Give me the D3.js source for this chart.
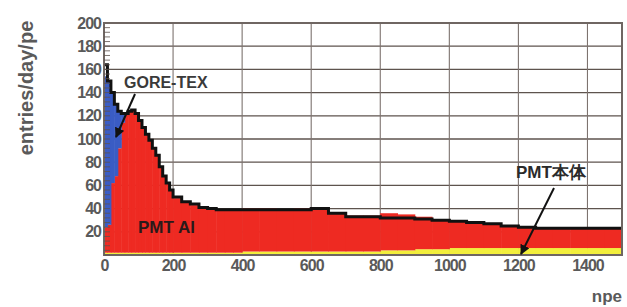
<!DOCTYPE html>
<html>
<head>
<meta charset="utf-8">
<script src="https://cdn.jsdelivr.net/npm/d3@7"></script>
<style>
  body { margin: 0; background: #fff; }
  text { font-family: "Liberation Sans", Arial, sans-serif; }
</style>
</head>
<body>
<div id="chart"></div>
<script>
// histogram bin edges (npe)
var binEdges = [0, 10, 20, 30, 40, 50, 60, 70, 80, 90, 100, 110, 120, 130, 140, 150, 160, 170, 180, 190,
  200, 225, 250, 275, 300, 325, 350, 375,
  400, 450, 500, 550, 600, 650, 700, 750, 800, 850, 900, 950, 1000, 1050, 1100, 1150, 1200, 1250, 1300, 1350, 1400, 1450, 1500];

// PMT body (yellow)
var pmtBody = [2, 2, 2, 2, 2, 2, 2, 2, 2, 2, 2, 2, 2, 2, 2, 2, 2, 2, 2, 2,
  2, 2, 2, 2, 2, 2, 2, 2,
  3, 3, 3, 3, 3, 3, 3, 3, 4, 4, 5, 5, 6, 6, 6, 6, 6, 6, 6, 6, 6, 6];

// PMT Al (red)
var pmtAl = [22, 24, 60, 66, 90, 112, 119, 122, 123, 120, 114, 108, 102, 97, 90, 84, 74, 66, 60, 54,
  47, 43, 41, 39, 38, 37, 37, 37,
  37, 37, 36, 37, 38, 33, 31, 31, 32, 31, 28, 25, 23, 23, 21, 19, 18, 17, 17, 18, 17, 17];

// GORE-TEX (blue)
var goreTex = [130, 124, 78, 62, 32, 8, 1, 0, 0, 0, 0, 0, 0, 0, 0, 0, 0, 0, 0, 0,
  0, 0, 0, 0, 0, 0, 0, 0,
  0, 0, 0, 0, 0, 0, 0, 0, 0, 0, 0, 0, 0, 0, 0, 0, 0, 0, 0, 0, 0, 0];

// measured total (black line)
var measured = [164, 150, 140, 130, 124, 122, 122, 124, 125, 122, 116, 110, 104, 99, 92, 86, 76, 68, 62, 56,
  50, 46, 44, 41, 40, 39, 39, 39,
  39, 39, 39, 39, 40, 36, 33, 33, 32, 32, 31, 30, 29, 28, 27, 25, 24, 23, 23, 23, 23, 23];

var yTicks = [20, 40, 60, 80, 100, 120, 140, 160, 180, 200];
var xTicks = [0, 200, 400, 600, 800, 1000, 1200, 1400];

var svgWidth = 627;
var svgHeight = 307;

var svg = d3.select("#chart")
  .append("svg")
  .attr("width", svgWidth)
  .attr("height", svgHeight);

var xScale = d3.scaleLinear().domain([0, 1500]).range([104, 622]);
var yScale = d3.scaleLinear().domain([0, 200]).range([255, 23]);

// build table for the stack
var table = pmtBody.map(function(v, i) {
  return { x0: binEdges[i], x1: binEdges[i + 1], body: v, al: pmtAl[i], gore: goreTex[i] };
});

var stack = d3.stack().keys(["body", "al", "gore"]);
var layers = stack(table);
var colors = { body: "#f2ee3c", al: "#ee2a22", gore: "#3a5cc4" };

// grid lines
svg.append("g")
  .selectAll("line")
  .data(yTicks)
  .enter()
  .append("line")
  .attr("x1", xScale(0))
  .attr("x2", xScale(1500))
  .attr("y1", d => yScale(d))
  .attr("y2", d => yScale(d))
  .attr("stroke", "#5e534e")
  .attr("stroke-width", 1.3);

svg.append("g")
  .selectAll("line")
  .data(xTicks.slice(1))
  .enter()
  .append("line")
  .attr("x1", d => xScale(d))
  .attr("x2", d => xScale(d))
  .attr("y1", yScale(0))
  .attr("y2", yScale(200))
  .attr("stroke", "#7d736f")
  .attr("stroke-width", 1.1);

// stacked bars
svg.append("g")
  .selectAll("g")
  .data(layers)
  .enter()
  .append("g")
  .attr("fill", d => colors[d.key])
  .selectAll("rect")
  .data(d => d)
  .enter()
  .append("rect")
  .attr("x", d => xScale(d.data.x0))
  .attr("width", d => xScale(d.data.x1) - xScale(d.data.x0) + 0.5)
  .attr("y", d => yScale(d[1]))
  .attr("height", d => Math.max(0, yScale(d[0]) - yScale(d[1])));

// measured line as steps
var pts = measured.map(function(v, i) { return [binEdges[i], v]; });
pts.push([1500, measured[measured.length - 1]]);

var line = d3.line()
  .x(d => xScale(d[0]))
  .y(d => yScale(d[1]))
  .curve(d3.curveStepAfter);

svg.append("path")
  .datum(pts)
  .attr("d", line)
  .attr("fill", "none")
  .attr("stroke", "#111")
  .attr("stroke-width", 3);

// frame
svg.append("rect")
  .attr("x", xScale(0))
  .attr("y", yScale(200))
  .attr("width", xScale(1500) - xScale(0))
  .attr("height", yScale(0) - yScale(200))
  .attr("fill", "none")
  .attr("stroke", "#6f6662")
  .attr("stroke-width", 2);

// minor ticks on the y axis
svg.append("g")
  .selectAll("line")
  .data(d3.range(0, 200, 4))
  .enter()
  .append("line")
  .attr("x1", xScale(0))
  .attr("x2", xScale(0) + 6)
  .attr("y1", d => yScale(d))
  .attr("y2", d => yScale(d))
  .attr("stroke", "#5e534e")
  .attr("stroke-width", 0.8);

// axes
var leftAxis = d3.axisLeft(yScale).tickValues(yTicks).tickSize(0).tickPadding(3);
var bottomAxis = d3.axisBottom(xScale).tickValues(xTicks).tickSize(0).tickPadding(5)
  .tickFormat(d3.format("d"));

var yAxis = svg.append("g")
  .attr("transform", `translate(${xScale(0)}, 0)`)
  .call(leftAxis);
var xAxis = svg.append("g")
  .attr("transform", `translate(0, ${yScale(0)})`)
  .call(bottomAxis);

[yAxis, xAxis].forEach(function(ax) {
  ax.select(".domain").remove();
  ax.selectAll("text")
    .attr("font-family", "'Liberation Sans', Arial, sans-serif")
    .attr("font-size", 16)
    .attr("font-weight", "bold")
    .attr("fill", "#5a5a5a")
    .attr("letter-spacing", -1);
});

// axis titles
svg.append("text")
  .attr("transform", "translate(33, 88) rotate(-90)")
  .attr("text-anchor", "middle")
  .attr("font-size", 20)
  .attr("font-weight", "bold")
  .attr("fill", "#5a5a5a")
  .text("entries/day/pe");

svg.append("text")
  .attr("x", 622)
  .attr("y", 302)
  .attr("text-anchor", "end")
  .attr("font-size", 17)
  .attr("font-weight", "bold")
  .attr("fill", "#5a5a5a")
  .text("npe");

// annotations
svg.append("text")
  .attr("x", 124)
  .attr("y", 88)
  .attr("font-size", 16)
  .attr("font-weight", "bold")
  .attr("fill", "#3a3a3a")
  .text("GORE-TEX");

svg.append("text")
  .attr("x", 138)
  .attr("y", 233)
  .attr("font-size", 17)
  .attr("font-weight", "bold")
  .attr("fill", "#2a1a1a")
  .text("PMT Al");

svg.append("text")
  .attr("x", 516)
  .attr("y", 178)
  .attr("font-size", 17)
  .attr("font-weight", "bold")
  .attr("fill", "#2a2a2a")
  .text("PMT本体");

// arrows
var defs = svg.append("defs");
defs.append("marker")
  .attr("id", "head")
  .attr("viewBox", "0 0 10 10")
  .attr("refX", 9)
  .attr("refY", 5)
  .attr("markerWidth", 5)
  .attr("markerHeight", 5)
  .attr("orient", "auto")
  .append("path")
  .attr("d", "M0,0 L10,5 L0,10 z")
  .attr("fill", "#111");

svg.append("line")
  .attr("x1", 135).attr("y1", 94)
  .attr("x2", 116).attr("y2", 137)
  .attr("stroke", "#111")
  .attr("stroke-width", 2)
  .attr("marker-end", "url(#head)");

svg.append("line")
  .attr("x1", 554).attr("y1", 188)
  .attr("x2", 521).attr("y2", 254)
  .attr("stroke", "#111")
  .attr("stroke-width", 2)
  .attr("marker-end", "url(#head)");
</script>
</body>
</html>
